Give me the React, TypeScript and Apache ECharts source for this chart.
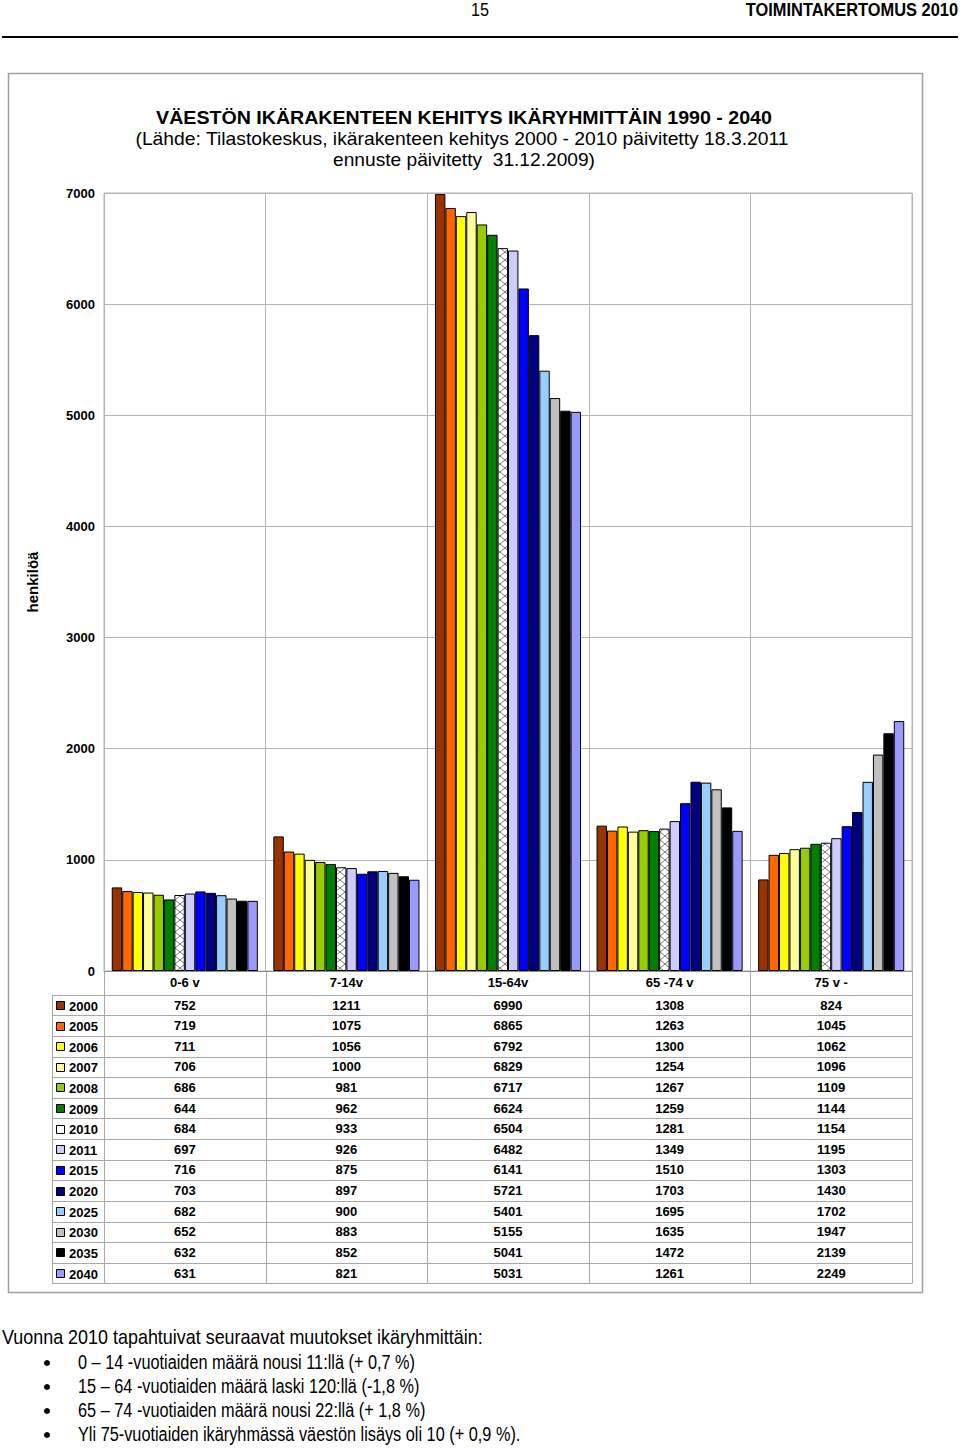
import React, { useEffect, useRef } from "react";
import * as echarts from "echarts";

const categories = ["0-6 v", "7-14v", "15-64v", "65 -74 v", "75 v -"];
const years = ["2000", "2005", "2006", "2007", "2008", "2009", "2010", "2011", "2015", "2020", "2025", "2030", "2035", "2040"];
const v2000 = [752, 1211, 6990, 1308, 824];
const v2005 = [719, 1075, 6865, 1263, 1045];
const v2006 = [711, 1056, 6792, 1300, 1062];
const v2007 = [706, 1000, 6829, 1254, 1096];
const v2008 = [686, 981, 6717, 1267, 1109];
const v2009 = [644, 962, 6624, 1259, 1144];
const v2010 = [684, 933, 6504, 1281, 1154];
const v2011 = [697, 926, 6482, 1349, 1195];
const v2015 = [716, 875, 6141, 1510, 1303];
const v2020 = [703, 897, 5721, 1703, 1430];
const v2025 = [682, 900, 5401, 1695, 1702];
const v2030 = [652, 883, 5155, 1635, 1947];
const v2035 = [632, 852, 5041, 1472, 2139];
const v2040 = [631, 821, 5031, 1261, 2249];
const seriesValues = [v2000, v2005, v2006, v2007, v2008, v2009, v2010, v2011, v2015, v2020, v2025, v2030, v2035, v2040];
const seriesColors = ["#993300", "#FF6600", "#FFFF00", "#FFFF99", "#99CC00", "#008000", "hatch", "#CCCCFF", "#0000FF", "#000080", "#99CCFF", "#C0C0C0", "#000000", "#9999FF"];

const titleText = "VÄESTÖN IKÄRAKENTEEN KEHITYS IKÄRYHMITTÄIN 1990 - 2040";
const subtitle1 = "(Lähde: Tilastokeskus, ikärakenteen kehitys 2000 - 2010 päivitetty 18.3.2011";
const subtitle2 = "ennuste päivitetty  31.12.2009)";
const headerPage = "15";
const headerTitle = "TOIMINTAKERTOMUS 2010";
const introText = "Vuonna 2010 tapahtuivat seuraavat muutokset ikäryhmittäin:";
const bullets = [
  "0 – 14 -vuotiaiden määrä nousi 11:llä (+ 0,7 %)",
  "15 – 64 -vuotiaiden määrä laski 120:llä (-1,8 %)",
  "65 – 74 -vuotiaiden määrä nousi 22:llä (+ 1,8 %)",
  "Yli 75-vuotiaiden ikäryhmässä väestön lisäys oli 10 (+ 0,9 %).",
];

const SANS = "'Liberation Sans', Arial, sans-serif";

function makeHatch() {
  const c = document.createElement("canvas");
  c.width = 10;
  c.height = 8;
  const ctx = c.getContext("2d")!;
  ctx.fillStyle = "#ffffff";
  ctx.fillRect(0, 0, 10, 8);
  ctx.strokeStyle = "#7a7a7a";
  ctx.lineWidth = 1;
  ctx.beginPath();
  ctx.moveTo(0, 0);
  ctx.lineTo(10, 8);
  ctx.moveTo(10, 0);
  ctx.lineTo(0, 8);
  ctx.stroke();
  return c;
}

function txt(x: number, y: number, text: string, font: string, align: string, scaleX = 1) {
  return {
    type: "text",
    x,
    y,
    scaleX,
    silent: true,
    style: { text, fill: "#000", font, align, verticalAlign: "middle", textAlign: align, textVerticalAlign: "middle" },
  };
}

export default function App() {
  const ref = useRef<HTMLDivElement>(null);
  useEffect(() => {
    if (!ref.current) return;
    const chart = echarts.init(ref.current, null, { renderer: "svg", width: 960, height: 1448 });
    const hatch = makeHatch();
    const GL = 104, GT = 193, GR = 912, GB = 971;
    const series = seriesValues.map((vals, i) => ({
      name: years[i],
      type: "bar",
      data: vals,
      barGap: "0%",
      barCategoryGap: "9.6%",
      itemStyle: {
        color: seriesColors[i] === "hatch" ? { image: hatch, repeat: "repeat" } : seriesColors[i],
        borderColor: "#000",
        borderWidth: 1,
      },
    }));
    chart.setOption({
      animation: false,
      grid: { left: GL, top: GT, width: GR - GL, height: GB - GT, show: true, borderColor: "#b4b4b4", borderWidth: 1 },
      xAxis: {
        type: "category",
        data: categories,
        axisLine: { show: true, lineStyle: { color: "#8c8c8c", width: 1 } },
        axisTick: { show: false },
        splitLine: { show: true, lineStyle: { color: "#b4b4b4", width: 1 } },
        axisLabel: { color: "#000", fontFamily: SANS, fontWeight: "bold", fontSize: 13, margin: 5 },
      },
      yAxis: {
        type: "value",
        min: 0,
        max: 7000,
        interval: 1000,
        name: "henkilöä",
        nameLocation: "middle",
        nameRotate: 90,
        nameGap: 64,
        nameTextStyle: { color: "#000", fontFamily: SANS, fontWeight: "bold", fontSize: 15 },
        axisLine: { show: false },
        axisTick: { show: false },
        splitLine: { show: true, lineStyle: { color: "#b4b4b4", width: 1 } },
        axisLabel: { color: "#000", fontFamily: SANS, fontWeight: "bold", fontSize: 13, margin: 9, formatter: (v: number) => String(v) },
      },
      series,
    });

    const g: any[] = [];
    const catX = categories.map((c) => chart.convertToPixel({ xAxisIndex: 0 }, c) as number);
    const catW = (GR - GL) / categories.length;
    const rowTop = 994.7;
    const rowH = 20.62;
    const tableLeft = 52;
    const lineColor = "#a8a8a8";
    const nRows = years.length;
    for (let r = 0; r <= nRows; r++) {
      const y = Math.round(rowTop + r * rowH) + 0.5;
      g.push({ type: "line", shape: { x1: tableLeft, y1: y, x2: GR, y2: y }, style: { stroke: lineColor, lineWidth: 1 }, silent: true });
    }
    const bottomY = Math.round(rowTop + nRows * rowH) + 0.5;
    g.push({ type: "line", shape: { x1: tableLeft + 0.5, y1: Math.round(rowTop) + 0.5, x2: tableLeft + 0.5, y2: bottomY }, style: { stroke: lineColor, lineWidth: 1 }, silent: true });
    for (let i = 0; i <= categories.length; i++) {
      const x = Math.round(GL + i * catW) + 0.5;
      g.push({ type: "line", shape: { x1: x, y1: GB, x2: x, y2: bottomY }, style: { stroke: lineColor, lineWidth: 1 }, silent: true });
    }
    years.forEach((yr, r) => {
      const cy = rowTop + (r + 0.5) * rowH;
      const col = seriesColors[r] === "hatch" ? "#ffffff" : seriesColors[r];
      g.push({ type: "rect", shape: { x: 56.5, y: Math.round(cy - 4) + 0.5, width: 8, height: 8 }, style: { fill: col, stroke: "#000", lineWidth: 1 }, silent: true });
      g.push(txt(69, cy + 1, yr, `bold 13px ${SANS}`, "left"));
      seriesValues[r].forEach((v, c) => {
        g.push(txt(catX[c], cy, String(v), `bold 13px ${SANS}`, "center"));
      });
    });
    g.push({ type: "rect", shape: { x: 8.5, y: 73.5, width: 914, height: 1219 }, style: { fill: "none", stroke: "#a0a0a0", lineWidth: 1.5 }, silent: true, z: -1 });
    g.push(txt(464, 118, titleText, `bold 18px ${SANS}`, "center", 1.09));
    g.push(txt(462, 139, subtitle1, `18px ${SANS}`, "center", 1.073));
    g.push(txt(464, 160, subtitle2, `18px ${SANS}`, "center", 1.065));
    g.push(txt(480, 10, headerPage, `19px ${SANS}`, "center", 0.85));
    g.push(txt(958, 10, headerTitle, `bold 19px ${SANS}`, "right", 0.863));
    g.push({ type: "rect", shape: { x: 2, y: 36, width: 956, height: 2 }, style: { fill: "#000" }, silent: true });
    g.push(txt(2, 1337, introText, `20px ${SANS}`, "left", 0.897));
    bullets.forEach((b, i) => {
      const y = 1362 + i * 24;
      g.push({ type: "circle", shape: { cx: 47, cy: y + 1, r: 3 }, style: { fill: "#000" }, silent: true });
      g.push(txt(78, y, b, `20px ${SANS}`, "left", 0.815));
    });
    chart.setOption({ graphic: { elements: g } });
    return () => chart.dispose();
  }, []);
  return <div ref={ref} style={{ position: "absolute", left: 0, top: 0, width: 960, height: 1448, background: "#fff" }} />;
}
